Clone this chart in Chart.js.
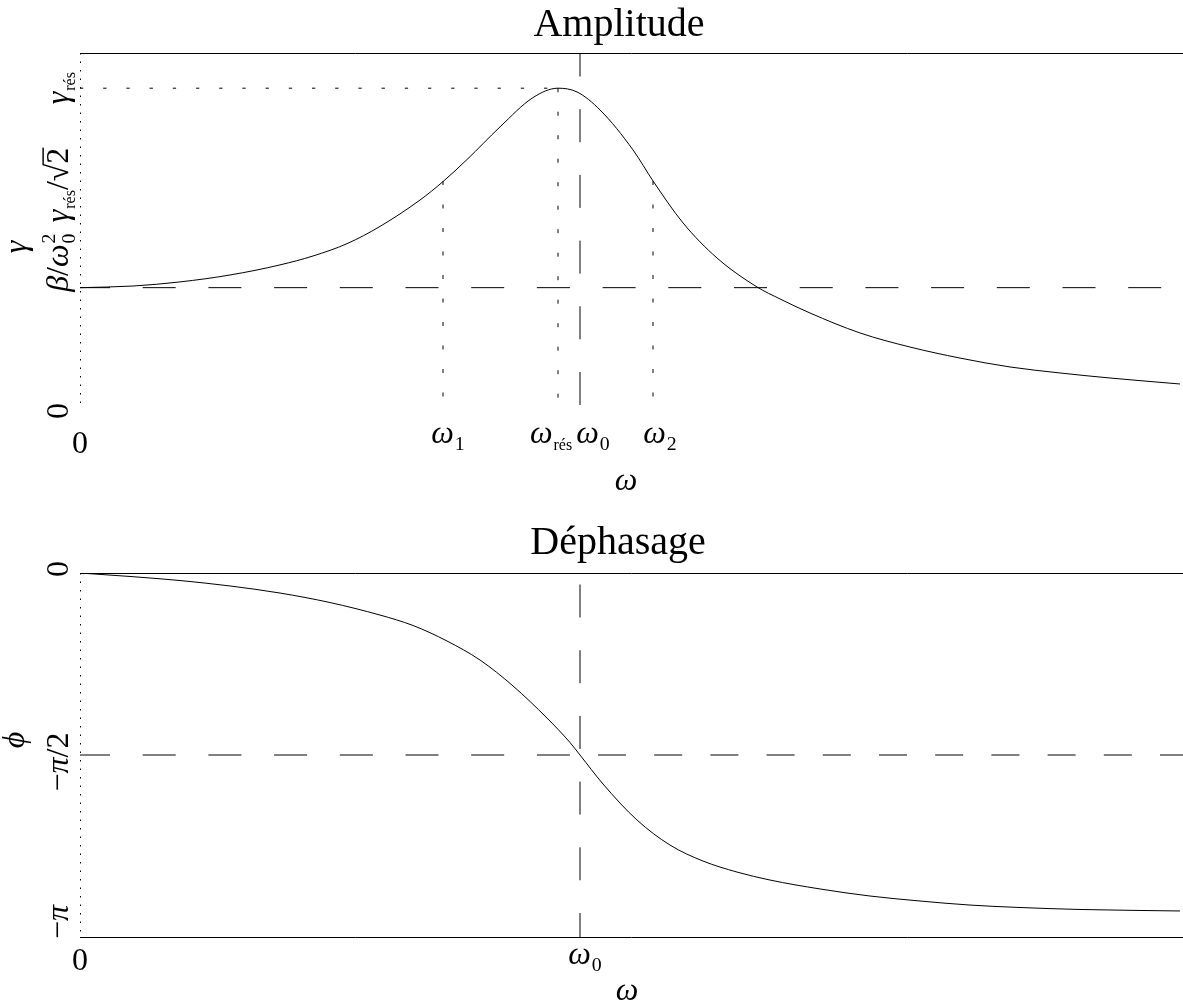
<!DOCTYPE html>
<html><head><meta charset="utf-8">
<script src="https://cdn.jsdelivr.net/npm/chart.js@4.4.0/dist/chart.umd.min.js"></script>
<style>
html,body{margin:0;padding:0;background:#fff;}
#wrap{position:relative;width:1183px;height:1002px;overflow:hidden;}
canvas{position:absolute;left:0;display:block;}
</style></head><body>
<div id="wrap">
<canvas id="amp" width="1183" height="500" style="top:0"></canvas>
<canvas id="phase" width="1183" height="502" style="top:500px"></canvas>
</div>
<script>
// ---------- data ----------
const omegaAmp  = [0, 0.106, 0.2, 0.3, 0.4, 0.466, 0.534, 0.6, 0.68, 0.726, 0.774, 0.84, 0.906, 0.956, 0.994, 1.04, 1.106, 1.146, 1.206, 1.274, 1.354, 1.4, 1.46, 1.56, 1.66, 1.76, 1.86, 1.96, 2.06, 2.2];
const amplitude = [1.0, 1.014, 1.049, 1.108, 1.194, 1.270, 1.375, 1.522, 1.747, 1.904, 2.092, 2.37, 2.62, 2.70, 2.668, 2.515, 2.174, 1.910, 1.552, 1.253, 1.006, 0.904, 0.784, 0.614, 0.494, 0.40, 0.324, 0.273, 0.23, 0.179];
const omegaPhase = [0, 0.1, 0.2, 0.3, 0.4, 0.5, 0.6, 0.666, 0.734, 0.8, 0.866, 0.934, 0.98, 1.0, 1.046, 1.114, 1.18, 1.246, 1.314, 1.38, 1.48, 1.58, 1.68, 1.78, 1.88, 2.0, 2.2];
const phase      = [0, -0.030, -0.065, -0.112, -0.173, -0.255, -0.363, -0.453, -0.587, -0.751, -0.975, -1.252, -1.463, -1.571, -1.821, -2.132, -2.348, -2.486, -2.581, -2.650, -2.727, -2.788, -2.831, -2.866, -2.887, -2.904, -2.917];

const omega1 = 0.726, omegaRes = 0.956, omega0 = 1.0, omega2 = 1.146;
const gammaRes = 2.70, gammaStatic = 1.0;
const gammaHalf = gammaRes / Math.SQRT2;
const xMax = 2.206, ampYMax = 3.0;

const ampXTicks  = [0, omega1, omegaRes, omega0, omega2];
const ampXLabels = ['0', 'ω_1', 'ω_{rés}', 'ω_0', 'ω_2'];
const ampYTicks  = [0, gammaStatic, gammaHalf, gammaRes];
const ampYLabels = ['0', 'β/ω_0^2', 'γ_{rés}/√{2}', 'γ_{rés}'];
const phXTicks  = [0, omega0];
const phXLabels = ['0', 'ω_0'];
const phYTicks  = [0, -Math.PI / 2, -Math.PI];
const phYLabels = ['0', '−π/2', '−π'];

// ---------- rich text helper ----------
const SERIF = '"Liberation Serif", "Times New Roman", "DejaVu Serif", serif';
const GREEK = /[\u0370-\u03FF]/;
function parseRich(str){
  const segs=[]; let i=0;
  const grp=()=>{ if(str[i]==='{'){const j=str.indexOf('}',i); const g=str.slice(i+1,j); i=j+1; return g;} return str[i++]; };
  while(i<str.length){
    const c=str[i];
    if(c==='_'){i++; segs.push({t:grp(),m:'sub'});}
    else if(c==='^'){i++; segs.push({t:grp(),m:'sup'});}
    else if(c==='√'){i++; segs.push({t:grp(),m:'sqrt'});}
    else {segs.push({t:c,m:'n'}); i++;}
  }
  return segs;
}
function fontFor(ch,size){ return (GREEK.test(ch)?'italic ':'')+size+'px '+SERIF; }
function layoutRich(ctx,segs,size,draw,x0,y0){
  let x=0, subStart=0, prev=null;
  for(const s of segs){
    if(s.m==='n'){
      ctx.font=fontFor(s.t,size); const w=ctx.measureText(s.t).width;
      if(draw) ctx.fillText(s.t,x0+x,y0);
      x+=w;
    } else if(s.m==='sub'||s.m==='sup'){
      const sz = s.t.length>1 ? size*0.5 : size*0.62;
      const dy = s.m==='sub' ? size*0.22 : -size*0.42;
      let start=x;
      if(s.m==='sup' && prev==='sub') start=subStart;
      ctx.font=sz+'px '+SERIF;
      const w=ctx.measureText(s.t).width;
      if(draw) ctx.fillText(s.t,x0+start+1,y0+dy);
      if(s.m==='sub') subStart=start;
      x=Math.max(x,start+w+1);
    } else {
      ctx.font=size+'px '+SERIF;
      const rw=ctx.measureText('√').width;
      if(draw) ctx.fillText('√',x0+x,y0);
      x+=rw;
      const w=ctx.measureText(s.t).width;
      if(draw){ ctx.fillText(s.t,x0+x,y0); ctx.fillRect(x0+x-1, y0-size*0.80, w+1, Math.max(1,size*0.045)); }
      x+=w;
    }
    prev=s.m;
  }
  return x;
}
function drawRich(ctx,str,x,y,size,rot){
  const segs=parseRich(str);
  ctx.save(); ctx.translate(x,y); if(rot) ctx.rotate(rot);
  ctx.textBaseline='alphabetic'; ctx.textAlign='left'; ctx.fillStyle='#000';
  const w=layoutRich(ctx,segs,size,false,0,0);
  layoutRich(ctx,segs,size,true,-w/2,0);
  ctx.restore();
}

// ---------- decoration plugin (frame, titles, tick labels) ----------
const decor = {
  id:'decor',
  afterDraw(chart, args, o){
    const ctx=chart.ctx, xs=chart.scales.x, ys=chart.scales.y, a=chart.chartArea;
    ctx.save();
    ctx.strokeStyle='#000'; ctx.lineWidth=1;
    o.frame.forEach(f=>{
      const y=Math.round(f==='top'?a.top:a.bottom)+0.5;
      ctx.beginPath(); ctx.moveTo(a.left,y); ctx.lineTo(a.right,y); ctx.stroke();
    });
    ctx.setLineDash([1.5,7]);
    ctx.beginPath(); ctx.moveTo(Math.round(a.left)+0.5,a.top); ctx.lineTo(Math.round(a.left)+0.5,a.bottom); ctx.stroke();
    ctx.setLineDash([]);
    ctx.font='40px '+SERIF; ctx.textAlign='center'; ctx.textBaseline='alphabetic'; ctx.fillStyle='#000';
    ctx.fillText(o.title, o.titleX, o.titleY);
    o.xTicks.forEach((v,i)=>drawRich(ctx,o.xLabels[i], xs.getPixelForValue(v)+o.xShift[i], o.xBase[i], 32, 0));
    o.yTicks.forEach((v,i)=>drawRich(ctx,o.yLabels[i], o.yBaseX, ys.getPixelForValue(v)+o.yShift[i], 32, -Math.PI/2));
    drawRich(ctx,o.xTitle,o.xTitleX,o.xTitleY,32,0);
    drawRich(ctx,o.yTitle,o.yTitleX,o.yTitleY,32,-Math.PI/2);
    ctx.restore();
  }
};

function ds(data, dash, offset, extra){
  return Object.assign({data, borderColor:'#000', backgroundColor:'#000', borderWidth:1,
    borderDash:dash||[], borderDashOffset:offset||0, pointRadius:0, fill:false, tension:0}, extra||{});
}
function pts(xsArr, ysArr){ return xsArr.map((x,i)=>({x, y:ysArr[i]})); }

function makeChart(id, datasets, yMin, yMax, padding, decorOpts){
  return new Chart(document.getElementById(id), {
    type:'line',
    data:{datasets},
    options:{
      responsive:false, animation:false, devicePixelRatio:1, events:[],
      layout:{padding},
      scales:{
        x:{type:'linear', min:0, max:xMax, display:false},
        y:{type:'linear', min:yMin, max:yMax, display:false}
      },
      plugins:{legend:{display:false}, tooltip:{enabled:false}, decor:decorOpts}
    },
    plugins:[decor]
  });
}

// ---------- Amplitude ----------
makeChart('amp', [
  ds(pts(omegaAmp, amplitude), [], 0, {cubicInterpolationMode:'monotone'}),
  ds([{x:0,y:gammaStatic},{x:xMax,y:gammaStatic}], [33,32.7], 3),
  ds([{x:omega0,y:0},{x:omega0,y:ampYMax}], [33,32.7], 0),
  ds([{x:0,y:gammaRes},{x:omegaRes,y:gammaRes}], [3.3,19.9], 0),
  ds([{x:omega1,y:gammaHalf},{x:omega1,y:0}], [4,19.5], 0),
  ds([{x:omegaRes,y:gammaRes},{x:omegaRes,y:0}], [4,19.5], 0),
  ds([{x:omega2,y:gammaHalf},{x:omega2,y:0}], [4,19.5], 0)
], 0, ampYMax, {left:80, right:0, top:53, bottom:95}, {
  frame:['top'], title:'Amplitude', titleX:619, titleY:36,
  xTicks:ampXTicks, xLabels:ampXLabels, xShift:[0,5,-7,13,7], xBase:[453,443,443,443,443],
  yTicks:ampYTicks, yLabels:ampYLabels, yShift:[6,-25,4,0], yBaseX:68,
  xTitle:'ω', xTitleX:626, xTitleY:490, yTitle:'γ', yTitleX:26, yTitleY:247
});

// ---------- Déphasage ----------
makeChart('phase', [
  ds(pts(omegaPhase, phase), [], 0, {cubicInterpolationMode:'monotone'}),
  ds([{x:0,y:-Math.PI/2},{x:omega0,y:-Math.PI/2}], [33,32.7], 3),
  ds([{x:omega0,y:-Math.PI/2},{x:xMax,y:-Math.PI/2}], [28,28.2], 38.2),
  ds([{x:omega0,y:-Math.PI},{x:omega0,y:0}], [33,32.7], 9)
], -Math.PI, 0, {left:80, right:0, top:73, bottom:65}, {
  frame:['top','bottom'], title:'Déphasage', titleX:618, titleY:54,
  xTicks:phXTicks, xLabels:phXLabels, xShift:[0,5], xBase:[470,464],
  yTicks:phYTicks, yLabels:phYLabels, yShift:[-4,7,-15], yBaseX:68,
  xTitle:'ω', xTitleX:627, xTitleY:500, yTitle:'ϕ', yTitleX:24, yTitleY:240
});
</script>
</body></html>
